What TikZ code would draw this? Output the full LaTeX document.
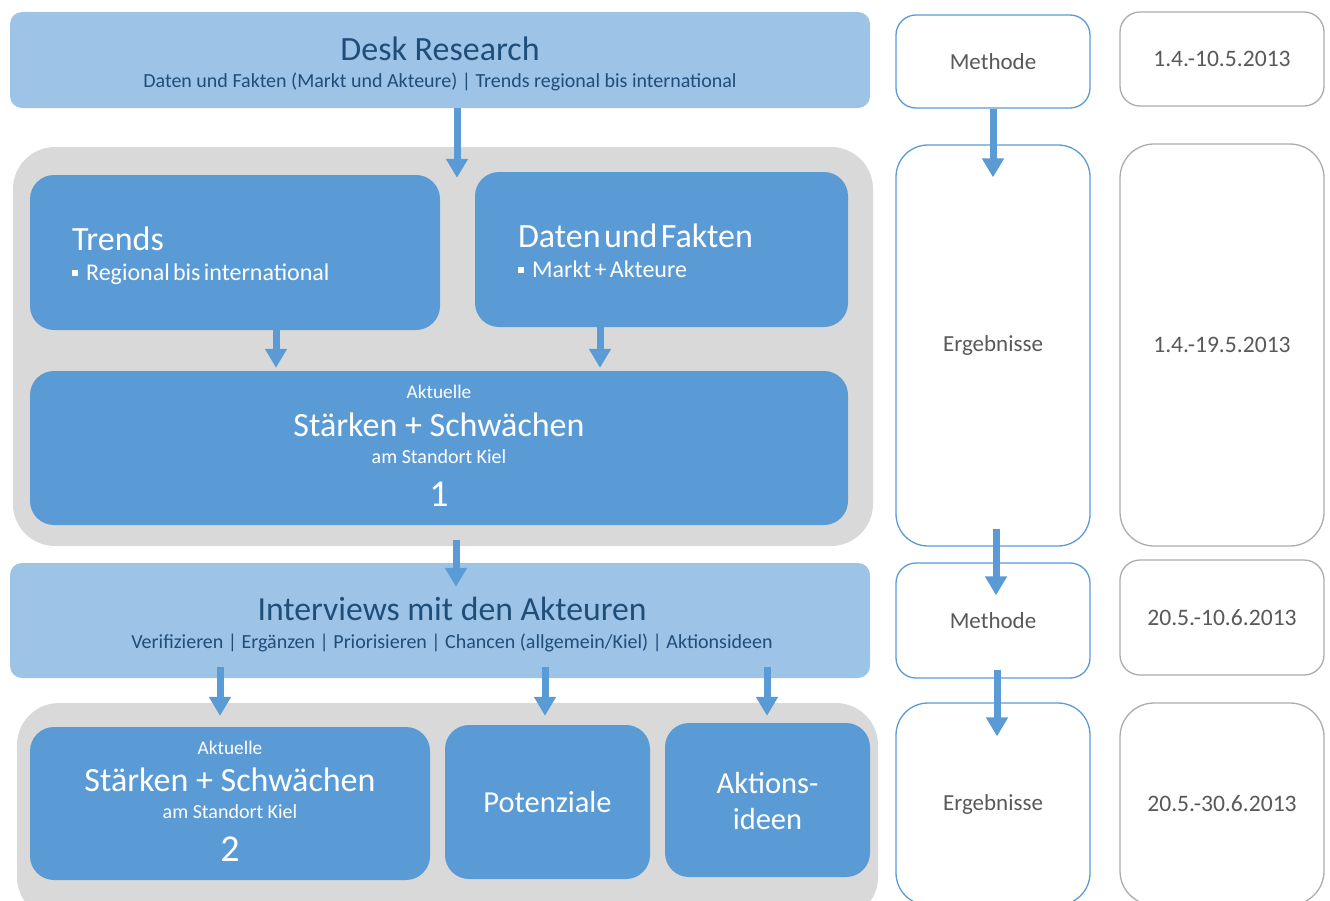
\documentclass[tikz,border=0pt]{standalone}
\usepackage{fontspec}
\setmainfont{Carlito}
\usetikzlibrary{arrows.meta}

\definecolor{paleblue}{HTML}{9DC3E6}
\definecolor{midblue}{HTML}{5B9BD5}
\definecolor{panelgray}{HTML}{D9D9D9}
\definecolor{navytext}{HTML}{1F4E79}
\definecolor{greytext}{HTML}{595959}
\definecolor{dateline}{HTML}{AFABAB}

\newcommand\fsz[2]{\fontsize{#1}{#2}\selectfont}
\newcommand\sqbul{\raisebox{0.2em}{\rule{0.24em}{0.24em}}\hspace{0.35em}}
% one line of a stacked label: height, depth, text
\newcommand\txtrow[3]{\rule[-#2pt]{0pt}{\dimexpr#1pt+#2pt\relax}{#3}}
\renewcommand\arraystretch{0}

\begin{document}
\begin{tikzpicture}[x=1pt, y=-1pt,
  phase/.style={fill=paleblue, rounded corners=12pt, text=navytext, inner sep=0pt},
  panel/.style={fill=panelgray, rounded corners=42pt, inner sep=0pt},
  block/.style={fill=midblue, rounded corners=24pt, text=white, inner sep=0pt},
  methbox/.style={draw=midblue, line width=1.3pt, fill=white, rounded corners=20pt, text=greytext, inner sep=0pt, font=\fsz{23}{27}},
  datebox/.style={draw=dateline, line width=1.3pt, fill=white, rounded corners=20pt, text=greytext, inner sep=0pt, font=\fsz{23.6}{27}},
  flow/.style={draw=midblue, line width=7pt, -{Triangle[width=21pt,length=19pt]}}]
  \useasboundingbox (0,0) rectangle (1330,900);
  \clip (0,0) rectangle (1330,900);

  % left column
  \node[phase, minimum width=860pt, minimum height=96pt] (desk) at (440,60)
    {\begin{tabular}{@{}c@{}}
      \txtrow{33.3}{6}{\fsz{34}{34}Desk Research}\\
      \txtrow{21.3}{6}{\fsz{20}{20}Daten und Fakten\ (Markt und Akteure)\ \textbar\ Trends regional bis international}
    \end{tabular}};
  \node[panel, minimum width=860pt, minimum height=399pt] (grayA) at (443,346.5) {};
  \node[block, minimum width=410pt, minimum height=155pt, align=left, text width=326pt] (trends) at (235,252.5)
    {\begin{tabular}{@{}l@{}}
      \txtrow{31.7}{6}{\fsz{34}{34}Trends}\\
      \txtrow{24.7}{6}{\fsz{24}{24}\sqbul Regional bis international}
    \end{tabular}};
  \node[block, minimum width=373pt, minimum height=155pt, align=left, text width=287pt] (daten) at (661.5,249.5)
    {\begin{tabular}{@{}l@{}}
      \txtrow{31.6}{6}{\fsz{34}{34}Daten und Fakten}\\
      \txtrow{24}{6}{\fsz{24}{24}\sqbul Markt + Akteure}
    \end{tabular}};
  \node[block, minimum width=818pt, minimum height=154pt] (sA) at (439,448)
    {\begin{tabular}{@{}c@{}}
      \txtrow{16.3}{8}{\fsz{19.3}{20}Aktuelle}\\
      \txtrow{29.7}{7}{\fsz{34}{34}Stärken + Schwächen}\\
      \txtrow{20.3}{6}{\fsz{20}{20}am Standort Kiel}\\
      \txtrow{36.7}{8}{\fsz{38}{38}1}
    \end{tabular}};

  \node[phase, minimum width=860pt, minimum height=115pt] (inter) at (440,620.5)
    {\begin{tabular}{@{\hspace{24pt}}c@{}}
      \txtrow{33.3}{6}{\fsz{33.7}{34}Interviews mit den Akteuren}\\
      \txtrow{22.3}{6}{\fsz{20}{20}Verifizieren \textbar\ Ergänzen \textbar\ Priorisieren \textbar\ Chancen (allgemein/Kiel) \textbar\ Aktionsideen}
    \end{tabular}};
  \node[panel, minimum width=861pt, minimum height=216pt] (grayB) at (447.5,811) {};
  \node[block, minimum width=400pt, minimum height=153pt] (sB) at (230,803.5)
    {\begin{tabular}{@{}c@{}}
      \txtrow{16.7}{8}{\fsz{19.3}{20}Aktuelle}\\
      \txtrow{29.7}{7}{\fsz{34}{34}Stärken + Schwächen}\\
      \txtrow{19.6}{6}{\fsz{20}{20}am Standort Kiel}\\
      \txtrow{37.4}{8}{\fsz{38}{38}2}
    \end{tabular}};
  \node[block, minimum width=205pt, minimum height=154pt, font=\fsz{30.5}{36}] (pot) at (547.5,802) {Potenziale};
  \node[block, minimum width=205pt, minimum height=154pt] (akt) at (767.5,800)
    {\begin{tabular}{@{}c@{}}
      \txtrow{30.6}{8}{\fsz{30.5}{31}Aktions-}\\
      \txtrow{28}{8}{\fsz{30.5}{31}ideen}
    \end{tabular}};

  % right columns
  \node[methbox, minimum width=194pt, minimum height=93pt] (methA) at (993,61.5) {Methode};
  \node[datebox, minimum width=204pt, minimum height=94pt] (dateA) at (1222,59) {1.4.-10.5.2013};
  \node[methbox, rounded corners=32pt, minimum width=194pt, minimum height=401pt] (ergA) at (993,345.5) {Ergebnisse};
  \node[datebox, rounded corners=34pt, minimum width=204pt, minimum height=402pt] (dateB) at (1222,345) {1.4.-19.5.2013};
  \node[methbox, minimum width=194pt, minimum height=115pt] (methB) at (993,620.5) {Methode};
  \node[datebox, minimum width=204pt, minimum height=115pt] (dateC) at (1222,617.5) {20.5.-10.6.2013};
  \node[methbox, rounded corners=32pt, minimum width=194pt, minimum height=202pt] (ergB) at (993,804) {Ergebnisse};
  \node[datebox, rounded corners=34pt, minimum width=204pt, minimum height=202pt] (dateD) at (1222,804) {20.5.-30.6.2013};

  % arrows
  \draw[flow] ([xshift=17pt]desk.south) -- ([xshift=14pt,yshift=-31pt]grayA.north);
  \draw[flow] ([xshift=41pt]trends.south) -- ([xshift=-163pt,yshift=3pt]sA.north);
  \draw[flow] ([xshift=-61.5pt]daten.south) -- ([xshift=161pt,yshift=3pt]sA.north);
  \draw[flow] ([xshift=13pt,yshift=6pt]grayA.south) -- ([xshift=16pt,yshift=-24pt]inter.north);
  \draw[flow] ([xshift=-220pt,yshift=11pt]inter.south) -- ([xshift=-10pt,yshift=11pt]sB.north);
  \draw[flow] ([xshift=105pt,yshift=11pt]inter.south) -- ([xshift=-2.5pt,yshift=9pt]pot.north);
  \draw[flow] ([xshift=327pt,yshift=11pt]inter.south) -- ([xshift=-0.5pt,yshift=7pt]akt.north);
  \draw[flow] (methA.south) -- ([yshift=-33pt]ergA.north);
  \draw[flow] ([xshift=3pt,yshift=18pt]ergA.south) -- ([xshift=3pt,yshift=-33pt]methB.north);
  \draw[flow] ([xshift=4pt,yshift=9pt]methB.south) -- ([xshift=4pt,yshift=-34pt]ergB.north);
\end{tikzpicture}
\end{document}
